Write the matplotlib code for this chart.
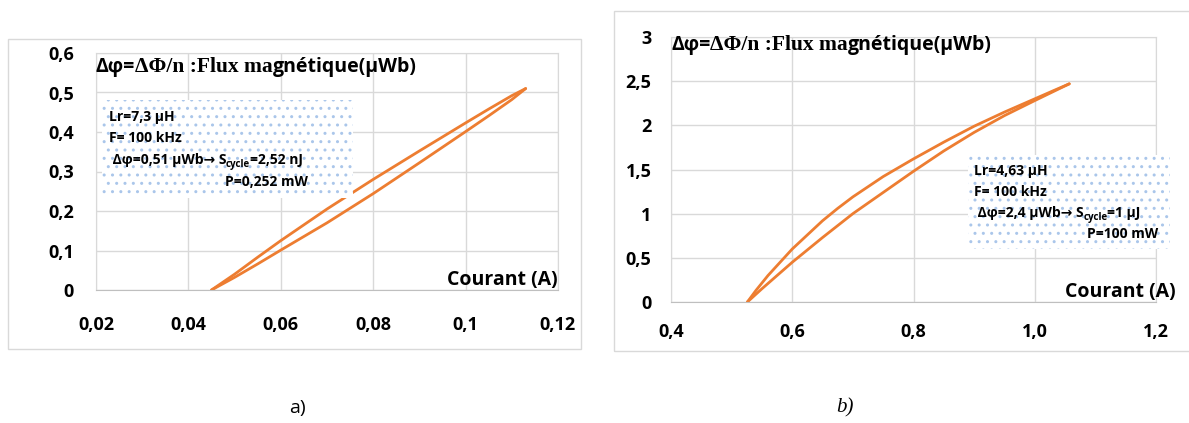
import matplotlib
matplotlib.use('Agg')
import matplotlib.pyplot as plt
from matplotlib.patches import Rectangle

# a) loop data
xa_up=[0.045,0.05,0.055,0.06,0.065,0.07,0.08,0.09,0.10,0.105,0.11,0.113]
ya_up=[0,0.04,0.083,0.125,0.165,0.205,0.28,0.352,0.423,0.458,0.492,0.51]
xa_dn=[0.113,0.11,0.105,0.10,0.09,0.08,0.07,0.06,0.055,0.05,0.045]
ya_dn=[0.51,0.482,0.441,0.401,0.322,0.244,0.17,0.101,0.066,0.032,0]
# b) loop data
xb_up=[0.526,0.54,0.56,0.58,0.6,0.625,0.65,0.675,0.7,0.75,0.8,0.85,0.9,0.95,1.0,1.03,1.057]
yb_up=[0,0.13,0.3,0.45,0.6,0.76,0.92,1.06,1.19,1.42,1.62,1.81,1.99,2.15,2.30,2.39,2.47]
xb_dn=[1.057,1.03,1.0,0.95,0.9,0.85,0.8,0.75,0.7,0.65,0.6,0.575,0.55,0.526]
yb_dn=[2.47,2.38,2.28,2.11,1.92,1.71,1.48,1.24,1.0,0.73,0.45,0.30,0.15,0]

xt_a=[0.02,0.04,0.06,0.08,0.1,0.12]; xl_a=['0,02','0,04','0,06','0,08','0,1','0,12']
yt_a=[0,0.1,0.2,0.3,0.4,0.5,0.6]; yl_a=['0','0,1','0,2','0,3','0,4','0,5','0,6']
xt_b=[0.4,0.6,0.8,1.0,1.2]; xl_b=['0,4','0,6','0,8','1,0','1,2']
yt_b=[0,0.5,1,1.5,2,2.5,3]; yl_b=['0','0,5','1','1,5','2','2,5','3']

# box texts: line 3 is split round the subscript
box_a=['Lr=7,3 µH','F= 100 kHz',(' Δφ=0,51 µWb→ S','cycle','=2,52 nJ'),'P=0,252 mW']
box_b=['Lr=4,63 µH','F= 100 kHz',(' Δφ=2,4 µWb→ S','cycle','=1 µJ'),'P=100 mW']

ORANGE='#ED7D31'; GRID='#d9d9d9'
SANS=['Open Sans','DejaVu Sans']; SERIF=['Liberation Serif','DejaVu Serif']
plt.rcParams['font.family']=SANS

fig=plt.figure(figsize=(11.89,4.23),dpi=100)
W,H=1189,423
def fr(x0,y0,x1,y1):
    return [x0/W,1-y1/H,(x1-x0)/W,(y1-y0)/H]

# outer chart frames
fig.patches.append(Rectangle((8/W,1-349/H),573/W,310/H,transform=fig.transFigure,fill=False,ec='#d9d9d9',lw=1))
fig.patches.append(Rectangle((614/W,1-351/H),600/W,340/H,transform=fig.transFigure,fill=False,ec='#d9d9d9',lw=1))

def panel(rect,xu,yu,xd,yd,xt,xl,yt,yl,xlim,ylim,xpad,ypad,box,boxrect,pind,ttop,textpos):
    ax=fig.add_axes(rect)
    ax.plot(xu,yu,color=ORANGE,lw=2,zorder=2,solid_capstyle='round',solid_joinstyle='round')
    ax.plot(xd,yd,color=ORANGE,lw=2,zorder=2,solid_capstyle='round',solid_joinstyle='round')
    ax.set_xlim(xlim); ax.set_ylim(ylim)
    ax.set_xticks(xt); ax.set_xticklabels(xl,fontsize=13,fontweight='bold')
    ax.set_yticks(yt); ax.set_yticklabels(yl,fontsize=13,fontweight='bold')
    ax.tick_params(length=0)
    ax.tick_params(axis='x',pad=xpad); ax.tick_params(axis='y',pad=ypad)
    ax.grid(color=GRID,lw=1,zorder=0)
    for s in ax.spines.values(): s.set_color(GRID)
    ax.spines['bottom'].set_color('#bfbfbf')
    # titles: mixed fonts as in the original
    t1=ax.text(0,ttop,'Δφ=',transform=ax.transAxes,fontsize=14,fontweight='bold',family=SANS,va='top',ha='left',zorder=5,clip_on=False)
    t2=ax.annotate('ΔΦ/n :Flux ma',xy=(1,0),xycoords=t1,va='bottom',ha='left',fontsize=15.5,fontweight='bold',family=SERIF,zorder=5,annotation_clip=False)
    ax.annotate('gnétique(µWb)',xy=(1,0),xycoords=t2,va='bottom',ha='left',fontsize=14,fontweight='bold',family=SANS,zorder=5,annotation_clip=False)
    ax.text(textpos[0],textpos[1],'Courant (A)',transform=ax.transAxes,fontsize=14,fontweight='bold',ha='right',va='bottom',clip_on=False)
    bx=Rectangle((boxrect[0],boxrect[1]),boxrect[2],boxrect[3],facecolor='white',edgecolor='#aac6ea',lw=0,hatch='..',zorder=3,clip_on=False)
    ax.add_patch(bx)
    x0=boxrect[0]+0.028*boxrect[2]
    kw=dict(fontsize=10,fontweight='bold',zorder=4,clip_on=False,family=SANS)
    for i,l in enumerate(box):
        y=boxrect[1]+boxrect[3]-(0.17+0.222*i)*boxrect[3]
        if isinstance(l,tuple):
            a=ax.text(x0,y,l[0],va='center',ha='left',**kw)
            b=ax.annotate(l[1],xy=(1,0),xycoords=a,xytext=(0,-2),textcoords='offset points',va='bottom',ha='left',
                          fontsize=7,fontweight='bold',zorder=4,family=SANS,annotation_clip=False)
            ax.annotate(l[2],xy=(1,0),xycoords=(b,a),va='bottom',ha='left',annotation_clip=False,**kw)
        elif i==3:
            ax.text(boxrect[0]+pind*boxrect[2],y,l,va='center',ha='left',**kw)
        else:
            ax.text(x0,y,l,va='center',ha='left',**kw)
    return ax

panel(fr(96,53,558,290),xa_up,ya_up,xa_dn,ya_dn,xt_a,xl_a,yt_a,yl_a,(0.02,0.12),(0,0.6),19,16,
      box_a,(0.0212,0.233,0.0545,0.248),0.49,0.985,(1.0,0.0))
panel(fr(671,37,1156,302),xb_up,yb_up,xb_dn,yb_dn,xt_b,xl_b,yt_b,yl_b,(0.4,1.2),(0,3),15,14,
      box_b,(0.89,0.6,0.333,1.06),0.59,1.008,(1.04,0.0))

fig.text(297/W,1-408/H,'a)',fontsize=14,ha='center',va='center',family=['Open Sans','DejaVu Sans'])
fig.text(845/W,1-408/H,'b)',fontsize=15,ha='center',va='center',style='italic',family=SERIF)

fig.savefig('out.png',dpi=100)
